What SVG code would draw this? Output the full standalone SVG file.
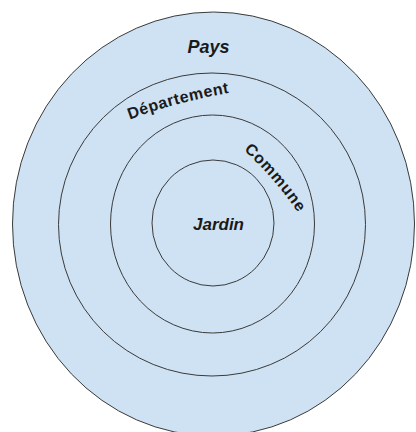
<svg xmlns="http://www.w3.org/2000/svg" width="416" height="432" viewBox="0 0 416 432">
  <defs>
    <style>
      .ring { fill: #cfe2f3; stroke: #3a3a3a; stroke-width: 1; }
      .lbl { font-family: "Liberation Sans", Arial, sans-serif; font-weight: bold; fill: #1a1a1a; }
      .it { font-style: italic; }
    </style>
    <path id="pDep" d="M 118,124 Q 178,100 242,91"/>
    <path id="pCom" d="M 241,147.6 Q 275.1,178 300.2,216.2"/>
  </defs>
  <rect width="416" height="432" fill="#ffffff"/>
  <g id="pays">
    <ellipse class="ring" cx="213.5" cy="224" rx="201" ry="212"/>
    <text class="lbl it" x="208.5" y="53" font-size="18" text-anchor="middle">Pays</text>
  </g>
  <g id="departement">
    <ellipse class="ring" cx="212" cy="224.5" rx="153.5" ry="151.5"/>
    <text class="lbl" font-size="16" letter-spacing="0.5"><textPath href="#pDep" startOffset="50%" text-anchor="middle">Département</textPath></text>
  </g>
  <g id="commune">
    <ellipse class="ring" cx="212.5" cy="224" rx="102" ry="109"/>
    <text class="lbl" font-size="16" letter-spacing="0.8"><textPath href="#pCom" startOffset="50%" text-anchor="middle">Commune</textPath></text>
  </g>
  <g id="jardin">
    <ellipse class="ring" cx="213" cy="223" rx="61" ry="63"/>
    <text class="lbl it" x="218.5" y="230" font-size="17" text-anchor="middle">Jardin</text>
  </g>
</svg>
